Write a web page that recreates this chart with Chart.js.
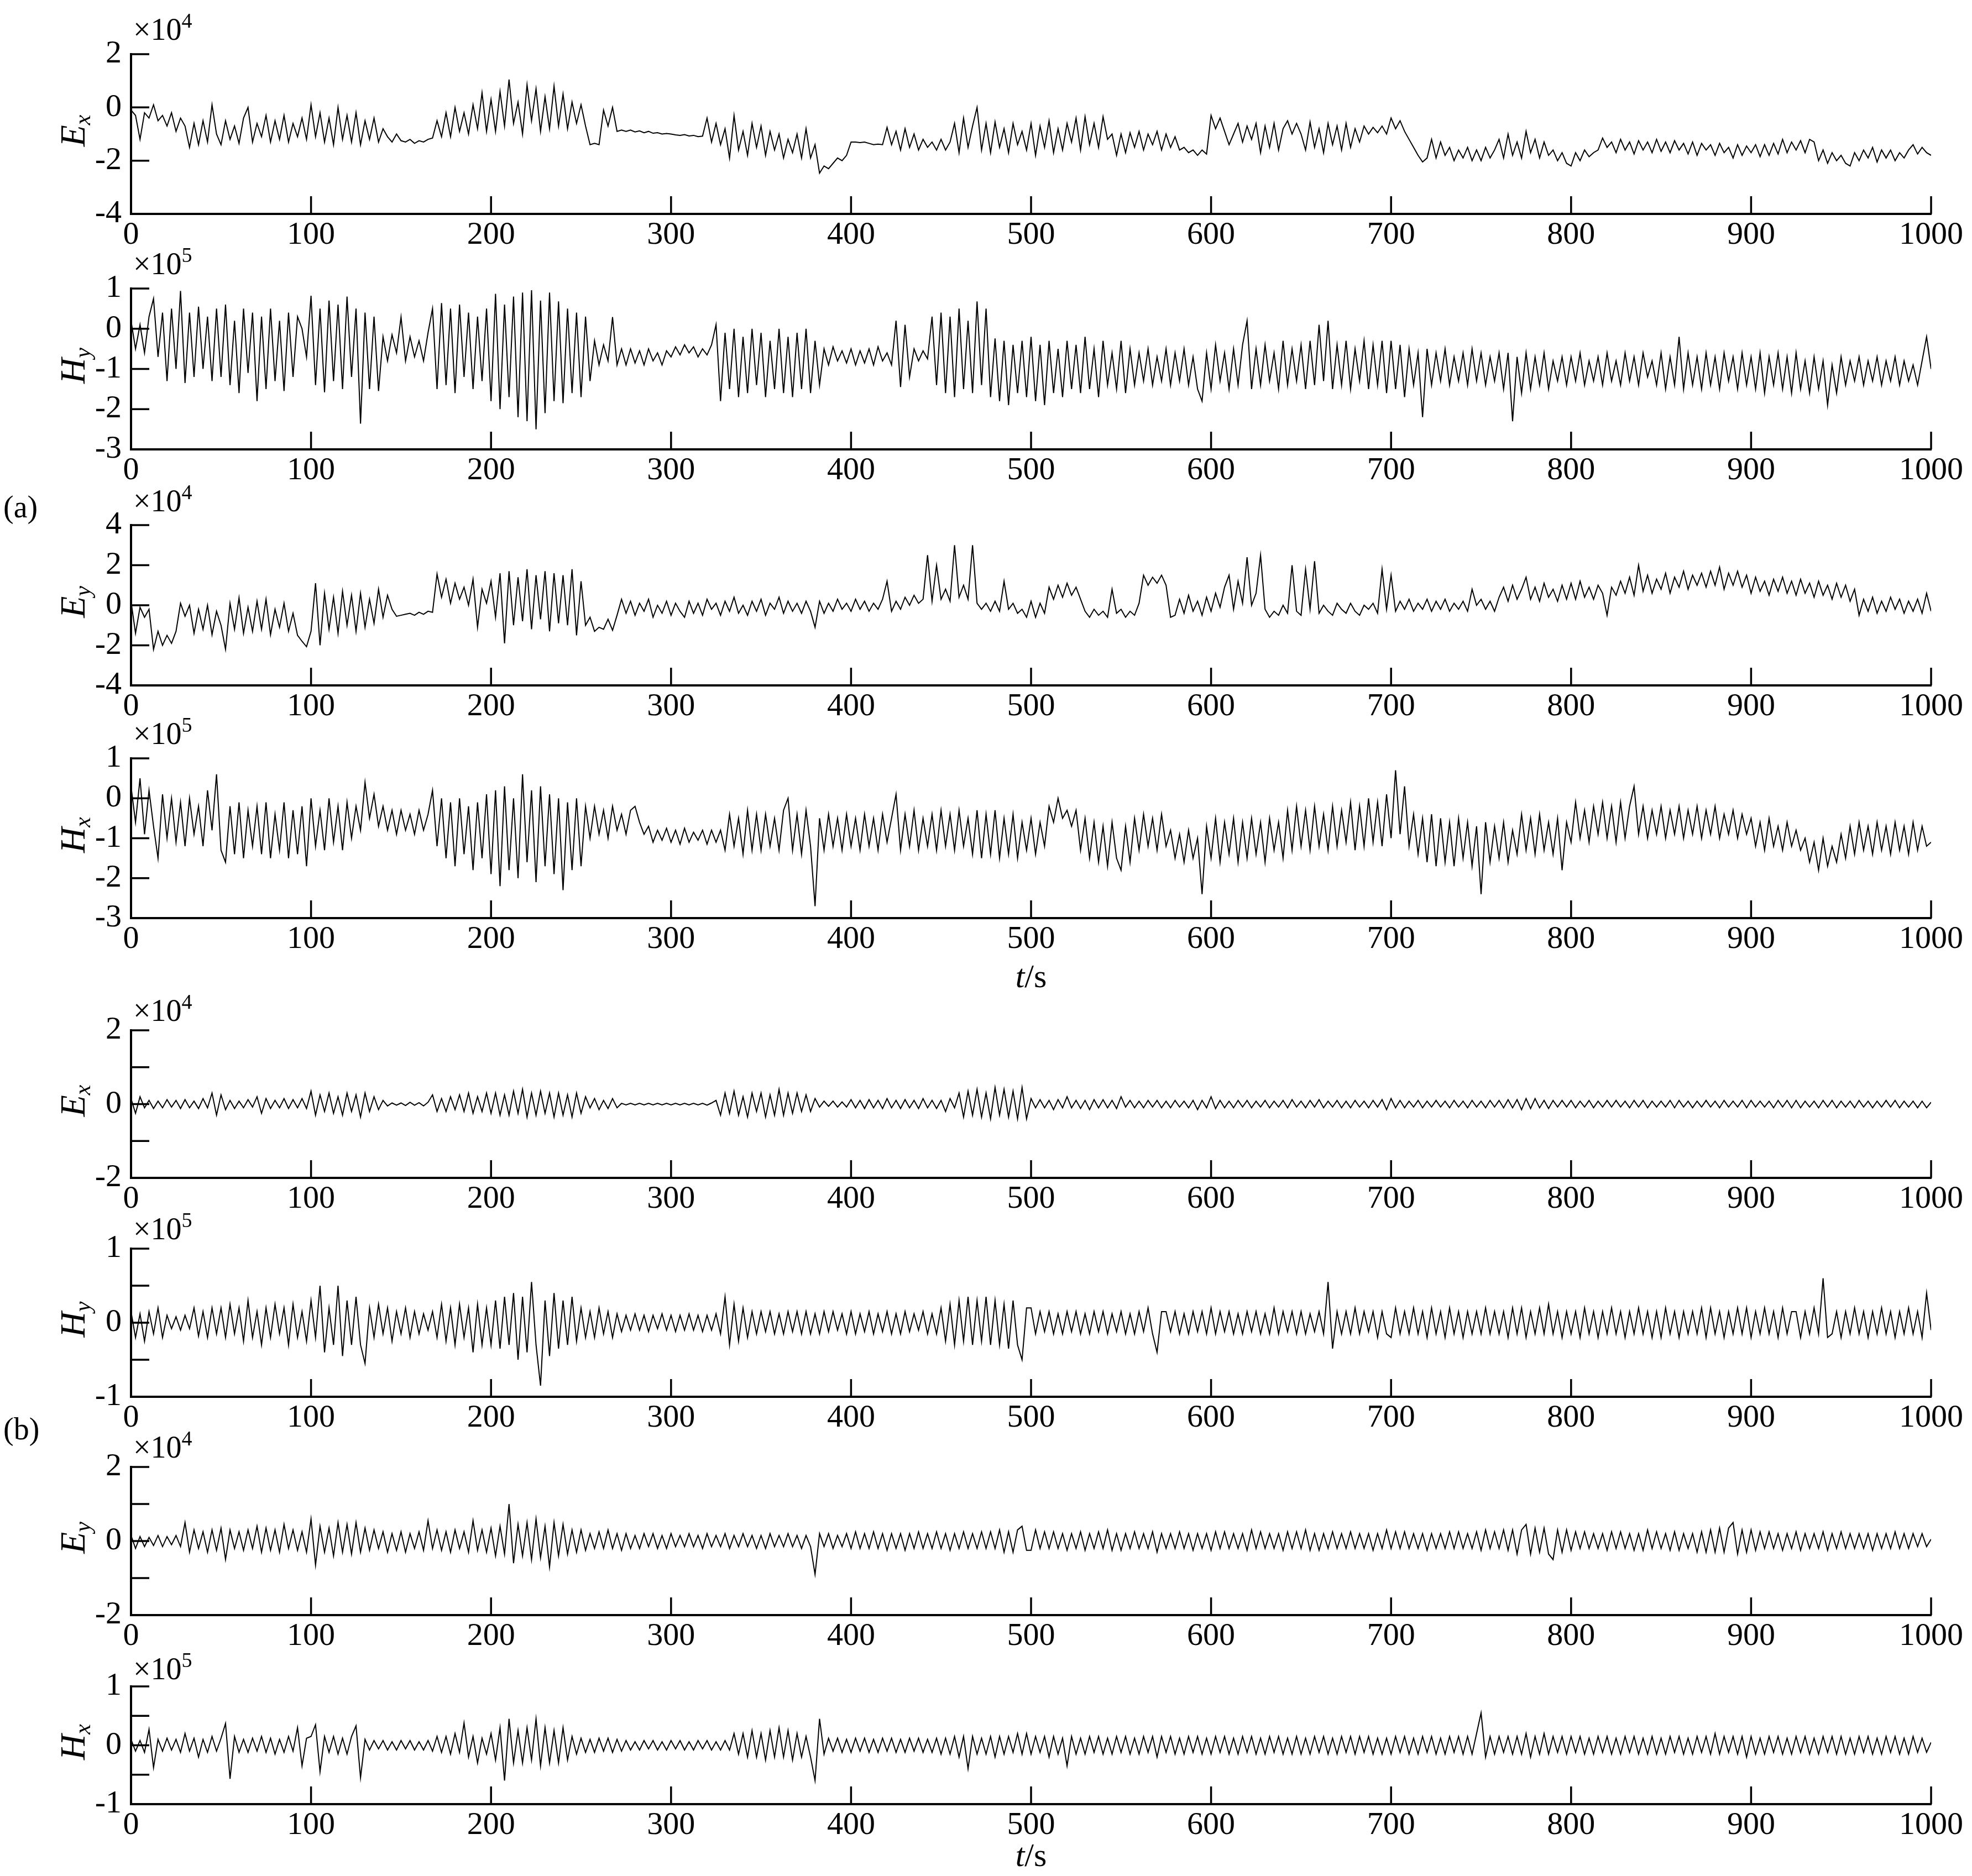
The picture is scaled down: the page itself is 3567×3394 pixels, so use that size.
<!DOCTYPE html>
<html>
<head>
<meta charset="utf-8">
<script src="https://cdn.jsdelivr.net/npm/chart.js@4.4.0/dist/chart.umd.min.js"></script>
<style>
  body { margin: 0; background: #fff; width: 3567px; height: 3394px; position: relative; overflow: hidden; font-family: "Liberation Serif", serif; }
  .panel { position: absolute; left: 0; }
  .tag { position: absolute; left: 6px; font-size: 56px; line-height: 56px; color: #000; }
</style>
</head>
<body>
<div class="tag" style="top:889px">(a)</div>
<div class="tag" style="top:2557px">(b)</div>

<script>
// sample spacing of the series below (seconds); each row = 25 s
const tStep = 2.5;

// (a) raw signals
const exRaw = [
  -0.1, -0.3, -1.2, -0.2, -0.4, 0.1, -0.5, -0.3, -0.7, -0.2,
  -0.9, -0.4, -0.7, -1.5, -0.6, -1.4, -0.5, -1.3, 0.1, -1.0,
  -1.4, -0.5, -1.2, -0.7, -1.35, -0.4, 0.0, -1.3, -0.6, -1.1,
  -0.3, -1.3, -0.5, -1.2, -0.3, -1.3, -0.6, -1.1, -0.4, -1.2,
  0.1, -1.1, -0.2, -1.3, -0.4, -1.4, 0.0, -1.2, -0.3, -1.3,
  -0.2, -1.4, -0.5, -1.2, -0.4, -1.3, -0.8, -1.1, -1.3, -1.0,
  -1.25, -1.3, -1.2, -1.35, -1.25, -1.3, -1.2, -1.15, -0.5, -1.1,
  -0.2, -1.1, 0.0, -0.9, -0.2, -1.0, 0.1, -0.8, 0.55, -0.9,
  0.3, -0.9, 0.6, -0.7, 1.05, -0.6, 0.2, -1.0, 0.85, -0.5,
  0.7, -0.9, 0.4, -0.8, 0.8, -0.7, 0.5, -0.8, 0.2, -0.6,
  0.1, -0.7, -1.4, -1.35, -1.4, -0.1, -0.7, 0.0, -0.9, -0.85,
  -0.9, -0.85, -0.92, -0.88, -0.95, -0.9, -0.97, -0.95, -1.0, -0.98,
  -1.0, -1.03, -1.05, -1.02, -1.07, -1.05, -1.1, -1.08, -0.4, -1.3,
  -0.6, -1.4, -0.8, -1.9, -0.3, -1.6, -0.9, -1.8, -0.6, -1.5,
  -0.7, -1.8, -0.9, -1.6, -1.0, -1.9, -1.2, -1.7, -1.0, -1.9,
  -0.8, -1.9, -1.4, -2.47, -2.2, -2.3, -2.1, -1.9, -2.0, -1.8,
  -1.3, -1.3, -1.32, -1.3, -1.35, -1.4, -1.38, -1.4, -0.75, -1.4,
  -0.9, -1.6, -0.8, -1.5, -1.0, -1.6, -1.2, -1.5, -1.3, -1.6,
  -1.2, -1.6, -1.3, -0.6, -1.7, -0.4, -1.5, -0.7, 0.0, -1.6,
  -0.6, -1.7, -0.55, -1.5, -0.8, -1.7, -0.6, -1.4, -0.9, -1.6,
  -0.6, -1.8, -0.7, -1.5, -0.5, -1.7, -0.8, -1.6, -0.6, -1.3,
  -0.4, -1.6, -0.35, -1.4, -0.6, -1.5, -0.35, -1.2, -1.0, -1.8,
  -1.0, -1.7, -0.95, -1.5, -0.9, -1.6, -1.0, -1.4, -0.9, -1.6,
  -1.0, -1.5, -1.1, -1.6, -1.5, -1.7, -1.6, -1.8, -1.6, -1.75,
  -0.3, -0.8, -0.4, -0.9, -1.4, -1.0, -0.6, -1.3, -0.7, -1.2,
  -0.6, -1.7, -0.7, -1.5, -0.6, -1.6, -0.8, -0.5, -1.0, -0.6,
  -1.0, -1.6, -0.55, -1.5, -0.8, -1.7, -0.6, -1.4, -0.7, -1.6,
  -0.6, -1.5, -0.8, -1.3, -0.7, -1.0, -0.75, -0.95, -0.7, -1.0,
  -0.4, -0.8, -0.5, -0.9, -1.2, -1.5, -1.8, -2.05, -1.9, -1.2,
  -1.9, -1.3, -1.8, -1.5, -2.0, -1.6, -1.9, -1.5, -2.0, -1.6,
  -2.0, -1.5, -1.9, -1.6, -1.2, -1.9, -1.0, -1.8, -1.3, -1.9,
  -0.9, -1.7, -1.2, -1.9, -1.3, -1.8, -1.6, -2.0, -1.7, -2.1,
  -2.2, -1.7, -2.0, -1.6, -1.85, -1.7, -1.6, -1.15, -1.5, -1.3,
  -1.7, -1.2, -1.6, -1.3, -1.75, -1.25, -1.6, -1.3, -1.7, -1.2,
  -1.65, -1.3, -1.7, -1.25, -1.6, -1.35, -1.75, -1.3, -1.8, -1.35,
  -1.6, -1.4, -1.8, -1.35, -1.7, -1.5, -1.9, -1.4, -1.8, -1.45,
  -1.7, -1.4, -1.85, -1.4, -1.8, -1.35, -1.75, -1.2, -1.7, -1.3,
  -1.6, -1.25, -1.7, -1.2, -1.3, -2.0, -1.6, -2.1, -1.7, -2.0,
  -1.8, -2.1, -2.2, -1.7, -2.0, -1.6, -1.9, -1.5, -2.05, -1.6,
  -1.9, -1.6, -2.0, -1.7, -1.9, -1.6, -1.4, -1.75, -1.5, -1.7,
  -1.8
];
const hyRaw = [
  0.2, -0.5, 0.1, -0.6, 0.3, 0.75, -0.7, 0.4, -1.3, 0.5,
  -1.0, 0.94, -1.35, 0.4, -1.2, 0.55, -1.0, 0.3, -1.3, 0.5,
  -1.2, 0.6, -1.4, 0.2, -1.6, 0.5, -1.1, 0.4, -1.8, 0.3,
  -1.5, 0.5, -1.3, 0.2, -1.55, 0.4, -1.2, 0.3, 0.0, -0.7,
  0.82, -1.4, 0.5, -1.58, 0.7, -1.3, 0.6, -1.5, 0.8, -1.2,
  0.5, -2.36, 0.4, -1.5, 0.3, -1.55, -0.2, -0.8, -0.15, -0.6,
  0.29, -0.8, -0.2, -0.7, -0.3, -0.8, -0.1, 0.5, -1.5, 0.64,
  -1.4, 0.5, -1.6, 0.6, -1.2, 0.4, -1.5, 0.3, -1.3, 0.5,
  -1.8, 0.87, -2.0, 0.6, -1.7, 0.8, -2.2, 0.9, -2.3, 0.96,
  -2.5, 0.7, -2.1, 0.9, -1.8, 0.68, -1.85, 0.5, -1.6, 0.4,
  -1.7, 0.3, -1.3, -0.3, -0.9, -0.4, -0.8, 0.29, -0.9, -0.5,
  -0.9, -0.5, -0.85, -0.55, -0.9, -0.5, -0.8, -0.6, -0.9, -0.55,
  -0.7, -0.45, -0.65, -0.4, -0.6, -0.45, -0.7, -0.5, -0.65, -0.4,
  0.1, -1.8, -0.1, -1.5, 0.0, -1.7, -0.2, -1.6, 0.0, -1.4,
  -0.1, -1.7, -0.3, -1.5, 0.0, -1.6, -0.2, -1.7, -0.1, -1.5,
  0.0, -1.6, -0.3, -1.4, -0.5, -0.9, -0.45, -0.8, -0.55, -0.85,
  -0.5, -0.9, -0.55, -0.85, -0.5, -0.9, -0.45, -0.8, -0.6, -0.9,
  0.2, -1.45, 0.1, -1.2, -0.5, -0.8, -0.55, -0.75, 0.3, -1.4,
  0.4, -1.6, 0.3, -1.7, 0.5, -1.5, 0.2, -1.6, 0.68, -1.4,
  0.5, -1.7, -0.24, -1.8, -0.3, -1.9, -0.4, -1.6, -0.3, -1.7,
  -0.2, -1.8, -0.4, -1.9, -0.3, -1.6, -0.5, -1.7, -0.3, -1.5,
  -0.4, -1.6, -0.2, -1.5, -0.5, -1.7, -0.3, -1.4, -0.6, -1.5,
  -0.3, -1.6, -0.5, -1.4, -0.6, -1.3, -0.5, -1.4, -0.7, -1.3,
  -0.5, -1.4, -0.6, -1.3, -0.5, -1.4, -0.7, -1.5, -1.8, -0.6,
  -1.5, -0.4, -1.3, -0.6, -1.5, -0.5, -1.4, -0.4, 0.2, -1.5,
  -0.5, -1.4, -0.4, -1.3, -0.6, -1.5, -0.3, -1.4, -0.5, -1.3,
  -0.4, -1.5, -0.3, -1.4, 0.1, -1.3, 0.2, -1.5, -0.4, -1.4,
  -0.3, -1.5, -0.5, -1.3, -0.3, -1.5, -0.4, -1.4, -0.3, -1.6,
  -0.3, -1.5, -0.4, -1.7, -0.5, -1.4, -0.6, -2.2, -0.5, -1.4,
  -0.6, -1.3, -0.5, -1.4, -0.7, -1.3, -0.6, -1.4, -0.5, -1.3,
  -0.6, -1.4, -0.7, -1.3, -0.6, -1.5, -0.6, -2.3, -0.7, -1.6,
  -0.6, -1.5, -0.7, -1.4, -0.6, -1.5, -0.8, -1.3, -0.7, -1.4,
  -0.7, -1.3, -0.6, -1.4, -0.8, -1.3, -0.7, -1.4, -0.6, -1.3,
  -0.8, -1.4, -0.6, -1.3, -0.7, -1.4, -0.6, -1.2, -0.8, -1.4,
  -0.6, -1.5, -0.7, -1.4, -0.2, -1.5, -0.6, -1.4, -0.7, -1.5,
  -0.6, -1.4, -0.7, -1.5, -0.6, -1.3, -0.7, -1.5, -0.6, -1.4,
  -0.7, -1.5, -0.6, -1.6, -0.7, -1.4, -0.6, -1.5, -0.7, -1.6,
  -0.6, -1.5, -0.8, -1.6, -0.7, -1.5, -0.8, -1.9, -0.9, -1.6,
  -0.7, -1.4, -0.8, -1.3, -0.7, -1.4, -0.8, -1.3, -0.7, -1.4,
  -0.8, -1.3, -0.7, -1.4, -0.8, -1.3, -0.9, -1.4, -0.8, -0.2,
  -1.0
];
const eyRaw = [
  0.2, -1.4, -0.1, -0.6, -0.2, -2.2, -1.3, -2.0, -1.5, -1.9,
  -1.3, 0.1, -0.55, 0.0, -1.4, -0.2, -1.2, 0.0, -1.47, -0.3,
  -1.0, -2.2, 0.1, -1.2, 0.37, -1.4, -0.1, -1.3, 0.2, -1.2,
  0.3, -1.47, -0.2, -1.1, 0.1, -1.3, -0.4, -1.5, -1.8, -2.07,
  -1.3, 1.1, -2.0, 0.6, -1.2, 0.4, -1.4, 0.7, -1.0, 0.5,
  -1.3, 0.6, -1.1, 0.3, -0.9, 0.8, -0.6, 0.5, -0.2, -0.55,
  -0.5, -0.45, -0.4, -0.5, -0.35, -0.45, -0.3, -0.35, 1.56, 0.4,
  1.3, 0.1, 1.1, 0.3, 0.9, 0.0, 1.3, -1.1, 0.8, 0.1,
  1.2, -0.6, 1.6, -1.9, 1.7, -1.0, 1.4, -0.8, 1.8, -1.2,
  1.5, -0.7, 1.7, -1.3, 1.6, -0.9, 1.5, -1.0, 1.8, -1.5,
  1.2, -1.0, -0.6, -1.3, -1.1, -1.2, -0.7, -1.25, -0.5, 0.3,
  -0.4, 0.2, -0.5, 0.1, -0.3, 0.3, -0.6, 0.0, -0.4, 0.2,
  -0.5, 0.1, -0.3, -0.6, 0.2, -0.4, 0.1, -0.5, 0.3, -0.2,
  0.1, -0.5, 0.2, -0.3, 0.4, -0.4, 0.0, -0.5, 0.2, -0.3,
  0.3, -0.5, 0.1, -0.2, 0.4, -0.4, 0.2, -0.3, 0.1, -0.4,
  0.2, -0.3, -1.1, 0.2, -0.4, 0.1, -0.3, 0.3, -0.2, 0.1,
  -0.3, 0.3, -0.2, 0.2, -0.3, 0.1, -0.2, 0.3, 1.2, -0.3,
  0.2, -0.2, 0.4, 0.0, 0.5, 0.1, 0.3, 2.5, 0.2, 2.0,
  0.3, 0.8, 0.2, 3.0, 0.4, 1.0, 0.3, 3.0, 0.1, -0.2,
  0.1, -0.3, 0.2, -0.3, 1.2, -0.2, 0.1, -0.4, -0.2, -0.6,
  0.2, -0.6, 0.1, -0.4, 0.9, 0.3, 1.0, 0.4, 1.1, 0.5,
  0.9, 0.3, -0.3, -0.6, -0.2, -0.5, -0.3, -0.6, 0.8, -0.4,
  -0.2, -0.6, -0.3, -0.5, 0.1, 1.5, 1.0, 1.4, 1.1, 1.5,
  1.0, -0.6, -0.5, 0.3, -0.4, 0.5, -0.3, 0.2, -0.5, 0.4,
  -0.3, 0.6, -0.1, 0.9, 1.5, -0.2, 1.2, 0.1, 2.4, 0.0,
  0.6, 2.5, -0.2, -0.6, -0.3, -0.5, 0.0, -0.4, 2.0, -0.3,
  -0.5, 1.8, -0.2, 2.2, -0.4, 0.0, -0.3, -0.5, 0.1, -0.2,
  -0.4, 0.1, -0.3, -0.5, 0.0, -0.2, 0.1, -0.4, 1.8, -0.2,
  1.5, -0.3, 0.2, -0.2, 0.3, -0.3, 0.1, -0.2, 0.3, -0.3,
  0.2, -0.2, 0.3, -0.3, 0.1, -0.2, 0.2, -0.3, 0.8, 0.0,
  0.3, -0.2, 0.2, -0.3, 0.4, 0.9, 0.2, 1.0, 0.3, 0.8,
  1.4, 0.3, 0.9, 0.2, 1.1, 0.4, 0.8, 0.2, 1.0, 0.3,
  1.1, 0.3, 1.2, 0.4, 0.9, 0.3, 1.0, 0.6, -0.5, 0.9,
  0.5, 1.2, 0.6, 1.4, 0.5, 2.0, 0.7, 1.5, 0.6, 1.3,
  0.8, 1.6, 0.6, 1.4, 0.9, 1.7, 0.8, 1.5, 1.0, 1.6,
  0.9, 1.7, 1.0, 1.9, 0.8, 1.6, 1.0, 1.7, 0.9, 1.5,
  0.6, 1.4, 0.7, 1.2, 0.5, 1.3, 0.7, 1.4, 0.6, 1.2,
  0.5, 1.3, 0.6, 1.1, 0.4, 1.2, 0.5, 1.0, 0.3, 1.1,
  0.4, 1.0, 0.2, 0.8, -0.5, 0.3, -0.3, 0.4, -0.4, 0.2,
  -0.3, 0.4, -0.2, 0.3, -0.4, 0.2, -0.3, 0.3, -0.4, 0.6,
  -0.3
];
const hxRaw = [
  0.3, -0.6, 0.5, -0.9, 0.2, -0.7, -1.5, 0.1, -1.0, 0.0,
  -1.1, -0.1, -1.2, 0.0, -0.9, -0.2, -1.2, 0.2, -0.8, 0.6,
  -1.3, -1.6, -0.2, -1.4, -0.1, -1.5, -0.3, -1.2, -0.2, -1.4,
  -0.1, -1.5, -0.4, -1.3, -0.1, -1.5, -0.3, -1.4, -0.2, -1.7,
  0.0, -1.2, -0.3, -1.3, 0.0, -1.1, -0.2, -1.3, -0.1, -1.0,
  -0.2, -0.8, 0.4, -0.5, 0.1, -0.7, -0.2, -0.8, -0.3, -0.9,
  -0.3, -0.8, -0.4, -0.9, -0.3, -0.8, -0.4, 0.2, -1.2, 0.0,
  -1.5, -0.1, -1.7, 0.0, -1.4, -0.2, -1.8, -0.1, -1.5, 0.1,
  -1.9, 0.2, -2.2, 0.3, -1.8, 0.0, -2.0, 0.6, -1.6, 0.2,
  -2.1, 0.3, -1.7, 0.1, -1.9, 0.0, -2.3, -0.1, -1.8, 0.0,
  -1.7, -0.2, -1.0, -0.2, -0.9, -0.3, -1.0, -0.2, -0.8, -0.4,
  -0.9, -0.3, -0.2, -0.6, -0.9, -0.7, -1.1, -0.8, -1.05, -0.75,
  -1.1, -0.8, -1.15, -0.75, -1.1, -0.85, -1.05, -0.8, -1.15, -0.8,
  -1.1, -0.8, -1.3, -0.4, -1.2, -0.5, -1.4, -0.3, -1.3, -0.4,
  -1.3, -0.4, -1.2, -0.5, -1.3, -0.3, 0.0, -1.3, -0.4, -1.4,
  -0.3, -1.2, -2.7, -0.5, -1.3, -0.4, -1.2, -0.5, -1.3, -0.4,
  -1.2, -0.5, -1.3, -0.4, -1.2, -0.5, -1.3, -0.4, -1.1, -0.5,
  0.1, -1.3, -0.4, -1.2, -0.3, -1.3, -0.5, -1.2, -0.4, -1.3,
  -0.3, -1.2, -0.4, -1.3, -0.3, -1.2, -0.5, -1.4, -0.3, -1.5,
  -0.4, -1.4, -0.3, -1.5, -0.5, -1.4, -0.4, -1.5, -0.6, -1.3,
  -0.5, -1.4, -0.6, -1.2, -0.2, -0.6, 0.0, -0.5, -0.3, -0.7,
  -0.3, -1.3, -0.5, -1.5, -0.6, -1.6, -0.7, -1.7, -0.6, -1.5,
  -1.8, -0.7, -1.6, -0.5, -1.3, -0.4, -1.2, -0.5, -1.3, -0.4,
  -1.2, -0.8, -1.5, -0.9, -1.6, -0.8, -1.5, -1.0, -2.4, -0.7,
  -1.5, -0.5, -1.6, -0.6, -1.4, -0.5, -1.6, -0.6, -1.5, -0.5,
  -1.4, -0.6, -1.6, -0.5, -1.3, -0.6, -1.5, -0.3, -1.3, -0.2,
  -1.2, -0.3, -1.3, -0.2, -1.2, -0.4, -1.3, -0.2, -1.2, -0.3,
  -1.1, -0.1, -1.3, -0.2, -1.2, 0.0, -1.1, -0.1, -1.2, 0.1,
  -1.0, 0.7, -0.9, 0.3, -1.2, -0.4, -1.4, -0.5, -1.6, -0.4,
  -1.7, -0.5, -1.6, -0.6, -1.7, -0.5, -1.5, -0.6, -1.7, -0.7,
  -2.4, -0.6, -1.6, -0.7, -1.5, -0.6, -1.6, -0.8, -1.4, -0.4,
  -1.3, -0.5, -1.4, -0.4, -1.3, -0.6, -1.4, -0.5, -1.8, -0.6,
  -1.1, -0.1, -1.0, -0.3, -1.1, -0.2, -0.9, -0.1, -1.0, -0.2,
  -1.1, -0.1, -1.0, -0.2, 0.3, -0.9, -0.2, -1.0, -0.3, -0.9,
  -0.2, -1.0, -0.3, -0.9, -0.2, -1.0, -0.3, -0.9, -0.2, -1.0,
  -0.3, -0.9, -0.2, -1.0, -0.4, -0.9, -0.3, -1.0, -0.4, -0.9,
  -0.5, -1.2, -0.6, -1.3, -0.5, -1.2, -0.7, -1.3, -0.6, -1.2,
  -0.8, -1.3, -1.0, -1.6, -1.1, -1.8, -1.0, -1.7, -1.2, -1.6,
  -0.9, -1.5, -0.7, -1.4, -0.6, -1.3, -0.7, -1.4, -0.6, -1.3,
  -0.7, -1.4, -0.6, -1.3, -0.7, -1.4, -0.6, -1.3, -0.7, -1.2,
  -1.1
];

// (b) processed signals
const exProc = [
  0.15, -0.25, 0.2, -0.1, 0.1, -0.12, 0.08, -0.1, 0.12, -0.08,
  0.1, -0.12, 0.12, -0.1, 0.08, -0.12, 0.15, -0.1, 0.3, -0.3,
  0.25, -0.15, 0.1, -0.12, 0.08, -0.1, 0.12, -0.08, 0.2, -0.25,
  0.15, -0.12, 0.1, -0.1, 0.15, -0.12, 0.12, -0.1, 0.15, -0.12,
  0.35, -0.3, 0.25, -0.2, 0.3, -0.25, 0.2, -0.3, 0.3, -0.2,
  0.25, -0.35, 0.3, -0.2, 0.2, -0.15, 0.1, -0.05, 0.03, -0.03,
  0.03, -0.04, 0.05, -0.03, 0.04, -0.05, 0.05, 0.25, -0.2, 0.15,
  -0.2, 0.2, -0.15, 0.25, -0.2, 0.3, -0.25, 0.2, -0.2, 0.3,
  -0.25, 0.3, -0.3, 0.25, -0.3, 0.35, -0.25, 0.4, -0.35, 0.3,
  -0.3, 0.35, -0.25, 0.3, -0.35, 0.3, -0.3, 0.25, -0.35, 0.3,
  -0.25, 0.2, -0.1, 0.15, -0.15, 0.1, -0.12, 0.15, -0.1, 0.02,
  -0.02, 0.02, -0.02, 0.02, -0.02, 0.02, -0.02, 0.02, -0.02, 0.02,
  -0.02, 0.02, -0.02, 0.02, -0.02, 0.02, -0.02, 0.02, -0.03, 0.03,
  0.1, -0.3, 0.3, -0.25, 0.35, -0.3, 0.2, -0.35, 0.3, -0.2,
  0.3, -0.35, 0.25, -0.3, 0.4, -0.3, 0.3, -0.25, 0.3, -0.2,
  0.25, -0.2, 0.15, -0.08, 0.08, -0.06, 0.08, -0.08, 0.06, -0.08,
  0.12, -0.1, 0.1, -0.12, 0.12, -0.1, 0.1, -0.12, 0.15, -0.1,
  0.1, -0.12, 0.12, -0.1, 0.1, -0.12, 0.15, -0.1, 0.1, -0.12,
  0.1, -0.2, 0.15, -0.1, 0.3, -0.35, 0.35, -0.3, 0.4, -0.35,
  0.3, -0.4, 0.45, -0.3, 0.4, -0.35, 0.35, -0.4, 0.45, -0.4,
  0.15, -0.1, 0.12, -0.1, 0.1, -0.15, 0.12, -0.1, 0.2, -0.1,
  0.1, -0.12, 0.1, -0.15, 0.12, -0.1, 0.12, -0.1, 0.1, -0.12,
  0.2, -0.08, 0.1, -0.1, 0.08, -0.1, 0.1, -0.08, 0.1, -0.1,
  0.08, -0.1, 0.1, -0.08, 0.08, -0.1, 0.1, -0.15, 0.1, -0.1,
  0.2, -0.12, 0.1, -0.1, 0.08, -0.1, 0.1, -0.08, 0.1, -0.1,
  0.08, -0.08, 0.1, -0.1, 0.08, -0.08, 0.1, -0.1, 0.12, -0.08,
  0.08, -0.1, 0.1, -0.08, 0.12, -0.1, 0.08, -0.08, 0.1, -0.1,
  0.08, -0.1, 0.1, -0.08, 0.08, -0.1, 0.1, -0.08, 0.12, -0.15,
  0.15, -0.1, 0.1, -0.1, 0.08, -0.08, 0.1, -0.1, 0.08, -0.08,
  0.1, -0.08, 0.08, -0.1, 0.1, -0.08, 0.08, -0.1, 0.1, -0.08,
  0.08, -0.1, 0.1, -0.08, 0.1, -0.1, 0.12, -0.1, 0.12, -0.15,
  0.15, -0.12, 0.15, -0.1, 0.1, -0.12, 0.1, -0.08, 0.1, -0.08,
  0.1, -0.1, 0.08, -0.08, 0.1, -0.1, 0.08, -0.08, 0.1, -0.08,
  0.1, -0.08, 0.08, -0.1, 0.1, -0.08, 0.1, -0.1, 0.08, -0.08,
  0.08, -0.08, 0.1, -0.1, 0.1, -0.08, 0.08, -0.1, 0.08, -0.08,
  0.1, -0.08, 0.08, -0.1, 0.1, -0.08, 0.08, -0.08, 0.1, -0.1,
  0.1, -0.08, 0.08, -0.08, 0.08, -0.1, 0.1, -0.08, 0.1, -0.1,
  0.1, -0.1, 0.08, -0.08, 0.08, -0.1, 0.1, -0.08, 0.1, -0.1,
  0.08, -0.08, 0.08, -0.1, 0.1, -0.08, 0.08, -0.1, 0.08, -0.08,
  0.1, -0.08, 0.1, -0.1, 0.08, -0.08, 0.08, -0.1, 0.08, -0.1,
  0.05
];
const hyProc = [
  0.15, -0.2, 0.12, -0.25, 0.15, -0.15, 0.2, -0.2, 0.1, -0.08,
  0.08, -0.1, 0.1, -0.08, 0.2, -0.18, 0.15, -0.2, 0.2, -0.15,
  0.2, -0.2, 0.25, -0.15, 0.2, -0.25, 0.3, -0.2, 0.15, -0.3,
  0.2, -0.2, 0.25, -0.15, 0.2, -0.3, 0.25, -0.2, 0.15, -0.25,
  0.3, -0.2, 0.5, -0.4, 0.2, -0.3, 0.5, -0.45, 0.3, -0.3,
  0.35, -0.3, -0.55, 0.2, -0.2, 0.25, -0.15, 0.2, -0.25, 0.15,
  -0.15, 0.2, -0.2, 0.15, -0.15, 0.12, -0.1, 0.15, -0.2, 0.25,
  -0.25, 0.2, -0.3, 0.25, -0.2, 0.2, -0.4, 0.25, -0.3, 0.2,
  -0.3, 0.3, -0.35, 0.35, -0.3, 0.4, -0.5, 0.35, -0.4, 0.55,
  -0.3, -0.85, 0.3, -0.45, 0.4, -0.35, 0.3, -0.3, 0.35, -0.25,
  0.2, -0.2, 0.15, -0.2, 0.2, -0.15, 0.15, -0.2, 0.12, -0.12,
  0.1, -0.1, 0.12, -0.1, 0.1, -0.12, 0.1, -0.08, 0.12, -0.1,
  0.1, -0.12, 0.1, -0.1, 0.12, -0.1, 0.1, -0.12, 0.1, -0.1,
  0.12, -0.15, 0.35, -0.3, 0.25, -0.25, 0.2, -0.2, 0.15, -0.15,
  0.15, -0.12, 0.15, -0.15, 0.12, -0.15, 0.15, -0.12, 0.15, -0.15,
  0.15, -0.15, 0.12, -0.15, 0.15, -0.12, 0.15, -0.1, 0.12, -0.15,
  0.15, -0.15, 0.12, -0.12, 0.15, -0.15, 0.12, -0.12, 0.15, -0.15,
  0.12, -0.15, 0.15, -0.12, 0.12, -0.1, 0.15, -0.15, 0.12, -0.15,
  0.2, -0.25, 0.25, -0.3, 0.3, -0.25, 0.35, -0.3, 0.3, -0.25,
  0.35, -0.3, 0.3, -0.3, 0.25, -0.35, 0.3, -0.3, -0.5, 0.2,
  0.2, -0.15, 0.15, -0.12, 0.15, -0.15, 0.12, -0.15, 0.15, -0.12,
  0.15, -0.15, 0.12, -0.15, 0.15, -0.12, 0.15, -0.15, 0.12, -0.12,
  0.15, -0.15, 0.12, -0.15, 0.15, -0.12, 0.2, -0.15, -0.4, 0.15,
  0.15, -0.12, 0.15, -0.15, 0.12, -0.15, 0.15, -0.12, 0.15, -0.15,
  0.2, -0.15, 0.15, -0.12, 0.15, -0.15, 0.12, -0.15, 0.15, -0.12,
  0.15, -0.15, 0.12, -0.15, 0.2, -0.15, 0.15, -0.12, 0.15, -0.15,
  0.15, -0.15, 0.12, -0.12, 0.15, -0.15, 0.55, -0.35, 0.15, -0.15,
  0.15, -0.15, 0.2, -0.15, 0.15, -0.12, 0.15, -0.2, 0.15, -0.15,
  -0.2, 0.2, -0.15, 0.15, -0.15, 0.2, -0.15, 0.15, -0.2, 0.2,
  -0.15, 0.15, -0.2, 0.2, -0.15, 0.15, -0.2, 0.15, -0.15, 0.15,
  -0.15, 0.2, -0.15, 0.15, -0.15, 0.15, -0.2, 0.2, -0.15, 0.2,
  -0.2, 0.15, -0.15, 0.2, -0.15, 0.25, -0.15, 0.15, -0.2, 0.15,
  -0.15, 0.15, -0.2, 0.2, -0.15, 0.15, -0.2, 0.15, -0.15, 0.2,
  -0.15, 0.15, -0.2, 0.15, -0.15, 0.2, -0.15, 0.15, -0.2, 0.15,
  -0.2, 0.2, -0.15, 0.15, -0.2, 0.15, -0.15, 0.15, -0.15, 0.2,
  -0.2, 0.2, -0.15, 0.15, -0.2, 0.15, -0.15, 0.2, -0.15, 0.2,
  -0.2, 0.15, -0.15, 0.2, -0.15, 0.15, -0.2, 0.2, -0.15, 0.15,
  0.15, -0.2, 0.15, -0.15, 0.2, -0.15, 0.6, -0.2, -0.15, 0.15,
  -0.2, 0.15, -0.15, 0.2, -0.15, 0.15, -0.2, 0.15, -0.15, 0.2,
  -0.15, 0.15, -0.2, 0.15, -0.15, 0.2, -0.15, 0.15, -0.2, 0.4,
  -0.1
];
const eyProc = [
  0.15, -0.2, 0.12, -0.15, 0.1, -0.12, 0.15, -0.15, 0.12, -0.1,
  0.15, -0.15, 0.5, -0.3, 0.3, -0.2, 0.25, -0.3, 0.3, -0.25,
  0.35, -0.5, 0.3, -0.2, 0.25, -0.25, 0.3, -0.2, 0.4, -0.3,
  0.35, -0.25, 0.3, -0.3, 0.45, -0.2, 0.3, -0.25, 0.25, -0.3,
  0.6, -0.65, 0.4, -0.3, 0.35, -0.4, 0.5, -0.3, 0.45, -0.35,
  0.5, -0.3, 0.35, -0.25, 0.3, -0.2, 0.25, -0.3, 0.2, -0.25,
  0.25, -0.3, 0.2, -0.2, 0.25, -0.25, 0.55, -0.2, 0.3, -0.25,
  0.25, -0.3, 0.3, -0.2, 0.25, -0.3, 0.55, -0.25, 0.3, -0.3,
  0.35, -0.4, 0.4, -0.35, 1.0, -0.6, 0.45, -0.4, 0.5, -0.5,
  0.6, -0.45, 0.4, -0.7, 0.5, -0.4, 0.45, -0.35, 0.3, -0.3,
  0.3, -0.25, 0.2, -0.2, 0.25, -0.2, 0.3, -0.2, 0.2, -0.25,
  0.2, -0.2, 0.15, -0.2, 0.2, -0.15, 0.2, -0.2, 0.15, -0.2,
  0.2, -0.15, 0.15, -0.15, 0.2, -0.15, 0.15, -0.2, 0.2, -0.15,
  0.15, -0.15, 0.2, -0.2, 0.15, -0.15, 0.2, -0.15, 0.15, -0.2,
  0.15, -0.2, 0.2, -0.15, 0.15, -0.15, 0.2, -0.15, 0.15, -0.2,
  0.15, -0.15, -0.9, 0.2, -0.15, 0.2, -0.2, 0.15, -0.15, 0.2,
  -0.2, 0.25, -0.2, 0.2, -0.2, 0.25, -0.2, 0.2, -0.25, 0.2,
  -0.2, 0.2, -0.25, 0.2, -0.2, 0.25, -0.2, 0.2, -0.2, 0.25,
  -0.2, 0.2, -0.25, 0.2, -0.2, 0.25, -0.2, 0.2, -0.2, 0.25,
  -0.2, 0.25, -0.2, 0.3, -0.3, 0.25, -0.3, 0.3, 0.4, -0.25,
  -0.25, 0.3, -0.2, 0.25, -0.2, 0.25, -0.2, 0.2, -0.25, 0.2,
  -0.2, 0.25, -0.25, 0.2, -0.2, 0.25, -0.2, 0.3, -0.25, 0.2,
  -0.25, 0.2, -0.2, 0.25, -0.2, 0.2, -0.2, 0.25, -0.3, 0.2,
  -0.2, 0.2, -0.2, 0.25, -0.2, 0.2, -0.25, 0.2, -0.2, 0.2,
  -0.25, 0.25, -0.2, 0.25, -0.2, 0.2, -0.2, 0.2, -0.25, 0.3,
  -0.2, 0.25, -0.2, 0.2, -0.2, 0.2, -0.25, 0.25, -0.2, 0.25,
  -0.2, 0.3, -0.25, 0.2, -0.25, 0.2, -0.2, 0.25, -0.2, 0.2,
  -0.2, 0.25, -0.2, 0.2, -0.2, 0.2, -0.25, 0.2, -0.2, 0.3,
  -0.2, 0.25, -0.2, 0.25, -0.2, 0.2, -0.2, 0.2, -0.25, 0.2,
  -0.2, 0.2, -0.2, 0.25, -0.2, 0.25, -0.2, 0.2, -0.2, 0.25,
  -0.25, 0.3, -0.2, 0.25, -0.2, 0.3, -0.25, 0.3, -0.35, 0.3,
  0.45, -0.35, 0.35, -0.3, 0.35, -0.35, -0.5, 0.3, -0.3, 0.3,
  -0.25, 0.25, -0.2, 0.25, -0.2, 0.2, -0.2, 0.2, -0.25, 0.25,
  -0.2, 0.25, -0.2, 0.2, -0.25, 0.2, -0.25, 0.3, -0.2, 0.25,
  -0.2, 0.2, -0.25, 0.25, -0.25, 0.2, -0.2, 0.2, -0.3, 0.25,
  -0.3, 0.3, -0.3, 0.35, -0.3, 0.35, 0.5, -0.35, 0.3, -0.3,
  0.3, -0.25, 0.25, -0.2, 0.25, -0.2, 0.2, -0.25, 0.2, -0.2,
  0.25, -0.25, 0.2, -0.2, 0.2, -0.2, 0.25, -0.25, 0.2, -0.2,
  0.25, -0.2, 0.2, -0.2, 0.2, -0.2, 0.2, -0.25, 0.2, -0.2,
  0.2, -0.2, 0.25, -0.2, 0.2, -0.2, 0.2, -0.15, 0.2, -0.15,
  0.05
];
const hxProc = [
  0.1, -0.1, 0.08, -0.12, 0.27, -0.38, 0.1, -0.1, 0.12, -0.08,
  0.1, -0.12, 0.2, -0.1, 0.12, -0.2, 0.1, -0.12, 0.15, -0.1,
  0.12, 0.37, -0.57, 0.15, -0.12, 0.1, -0.12, 0.12, -0.1, 0.15,
  -0.12, 0.12, -0.15, 0.1, -0.12, 0.15, -0.1, 0.3, -0.35, 0.12,
  0.15, 0.35, -0.45, 0.15, -0.12, 0.15, -0.15, 0.12, -0.15, 0.15,
  0.33, -0.55, 0.1, -0.08, 0.08, -0.06, 0.08, -0.08, 0.06, -0.08,
  0.08, -0.06, 0.08, -0.08, 0.06, -0.08, 0.08, -0.1, 0.15, -0.12,
  0.15, -0.15, 0.2, -0.12, 0.38, -0.2, 0.15, -0.3, 0.12, -0.15,
  0.2, -0.25, 0.3, -0.6, 0.45, -0.3, 0.25, -0.3, 0.3, -0.25,
  0.45, -0.35, 0.3, -0.3, 0.25, -0.3, 0.3, -0.25, 0.15, -0.15,
  0.12, -0.12, 0.1, -0.12, 0.12, -0.1, 0.12, -0.12, 0.1, -0.1,
  0.08, -0.08, 0.06, -0.08, 0.08, -0.06, 0.08, -0.08, 0.06, -0.08,
  0.08, -0.06, 0.08, -0.08, 0.06, -0.08, 0.08, -0.06, 0.08, -0.08,
  0.06, -0.08, 0.08, -0.08, 0.2, -0.15, 0.2, -0.2, 0.25, -0.2,
  0.2, -0.25, 0.25, -0.2, 0.3, -0.2, 0.25, -0.25, 0.2, -0.2,
  0.15, -0.2, -0.6, 0.45, -0.15, 0.12, -0.1, 0.12, -0.12, 0.1,
  -0.12, 0.12, -0.1, 0.12, -0.12, 0.1, -0.12, 0.12, -0.1, 0.12,
  -0.12, 0.1, -0.12, 0.12, -0.1, 0.12, -0.12, 0.1, -0.12, 0.12,
  -0.15, 0.12, -0.15, 0.15, -0.2, 0.15, -0.4, 0.15, -0.15, 0.12,
  -0.15, 0.15, -0.2, 0.15, -0.15, 0.15, -0.12, 0.2, -0.15, 0.2,
  -0.15, 0.15, -0.12, 0.15, -0.2, 0.15, -0.15, 0.12, -0.35, 0.15,
  -0.15, 0.12, -0.15, 0.15, -0.12, 0.15, -0.15, 0.12, -0.15, 0.15,
  -0.12, 0.15, -0.15, 0.12, -0.15, 0.15, -0.12, 0.15, -0.2, 0.15,
  -0.12, 0.15, -0.15, 0.12, -0.15, 0.15, -0.12, 0.15, -0.15, 0.12,
  -0.15, 0.15, -0.12, 0.15, -0.15, 0.12, -0.15, 0.15, -0.12, 0.15,
  -0.15, 0.12, -0.15, 0.15, -0.12, 0.15, -0.15, 0.12, -0.15, 0.15,
  -0.15, 0.12, -0.15, 0.15, -0.12, 0.15, -0.15, 0.12, -0.15, 0.15,
  -0.12, 0.15, -0.15, 0.15, -0.12, 0.15, -0.15, 0.12, -0.15, 0.12,
  -0.15, 0.15, -0.12, 0.15, -0.15, 0.12, -0.15, 0.15, -0.12, 0.15,
  -0.15, 0.12, -0.15, 0.15, -0.12, 0.15, -0.15, 0.15, -0.15, 0.2,
  0.55, -0.2, 0.15, -0.15, 0.15, -0.12, 0.15, -0.15, 0.15, -0.15,
  0.2, -0.2, 0.15, -0.15, 0.2, -0.15, 0.15, -0.12, 0.15, -0.15,
  0.15, -0.12, 0.15, -0.15, 0.12, -0.15, 0.15, -0.12, 0.15, -0.15,
  0.12, -0.15, 0.15, -0.12, 0.15, -0.15, 0.12, -0.15, 0.15, -0.15,
  0.12, -0.15, 0.15, -0.12, 0.15, -0.15, 0.12, -0.15, 0.15, -0.12,
  0.15, -0.15, 0.2, -0.15, 0.15, -0.12, 0.15, -0.15, 0.15, -0.2,
  0.15, -0.15, 0.12, -0.15, 0.15, -0.12, 0.15, -0.15, 0.12, -0.15,
  0.15, -0.12, 0.15, -0.15, 0.12, -0.15, 0.15, -0.12, 0.15, -0.15,
  0.15, -0.15, 0.12, -0.15, 0.15, -0.12, 0.15, -0.15, 0.12, -0.15,
  0.15, -0.12, 0.15, -0.15, 0.12, -0.15, 0.15, -0.12, 0.12, -0.12,
  0.05
];

// panel layout (pixels on the page) and axis settings
const panels = [
  { data: exRaw,  top: 98,   bottom: 387,  min: -4, max: 2, step: 2,   every: 2, name: 'E', sub: 'x', exp: '4', expGap: 26 },
  { data: hyRaw,  top: 522,  bottom: 813,  min: -3, max: 1, step: 1,   every: 1, name: 'H', sub: 'y', exp: '5', expGap: 26 },
  { data: eyRaw,  top: 950,  bottom: 1240, min: -4, max: 4, step: 2,   every: 2, name: 'E', sub: 'y', exp: '4', expGap: 25 },
  { data: hxRaw,  top: 1372, bottom: 1661, min: -3, max: 1, step: 1,   every: 1, name: 'H', sub: 'x', exp: '5', expGap: 26, unitY: 1786 },
  { data: exProc, top: 1864, bottom: 2131, min: -2, max: 2, step: 1,   every: 2, name: 'E', sub: 'x', exp: '4', expGap: 17 },
  { data: hyProc, top: 2259, bottom: 2527, min: -1, max: 1, step: 0.5, every: 1, name: 'H', sub: 'y', exp: '5', expGap: 17 },
  { data: eyProc, top: 2654, bottom: 2922, min: -2, max: 2, step: 1,   every: 2, name: 'E', sub: 'y', exp: '4', expGap: 17 },
  { data: hxProc, top: 3051, bottom: 3264, min: -1, max: 1, step: 0.5, every: 1, name: 'H', sub: 'x', exp: '5', expGap: 13, unitY: 3376 }
];

const PAD_TOP = 110, PAD_BOT = 140, PAD_RIGHT = 74, Y_W = 237;
const SERIF = '"Liberation Serif", "Times New Roman", serif';

// inward ticks, exponent label, axis title and t/s
const decor = {
  id: 'decor',
  afterDraw(chart, args, opts) {
    const p = opts.panel;
    const { ctx, chartArea: a, scales } = chart;
    ctx.save();
    ctx.strokeStyle = '#000';
    ctx.lineWidth = 3.5;
    scales.y.ticks.forEach(t => {
      const y = scales.y.getPixelForValue(t.value);
      ctx.beginPath(); ctx.moveTo(a.left, y); ctx.lineTo(a.left + 33, y); ctx.stroke();
    });
    scales.x.ticks.forEach(t => {
      const x = scales.x.getPixelForValue(t.value);
      ctx.beginPath(); ctx.moveTo(x, a.bottom); ctx.lineTo(x, a.bottom - 32); ctx.stroke();
    });

    ctx.fillStyle = '#000';
    ctx.textAlign = 'left';
    ctx.textBaseline = 'alphabetic';
    const base = a.top - p.expGap;
    ctx.font = '56px ' + SERIF;
    ctx.fillText('×10', a.left + 4, base);
    const w10 = ctx.measureText('×10').width;
    ctx.font = '38px ' + SERIF;
    ctx.fillText(p.exp, a.left + 4 + w10, base - 22);

    ctx.save();
    ctx.translate(153, (a.top + a.bottom) / 2 - 6);
    ctx.rotate(-Math.PI / 2);
    ctx.font = 'italic 64px ' + SERIF;
    const wn = ctx.measureText(p.name).width;
    ctx.font = 'italic 42px ' + SERIF;
    const ws = ctx.measureText(p.sub).width;
    const x0 = -(wn + ws) / 2;
    ctx.font = 'italic 64px ' + SERIF;
    ctx.fillText(p.name, x0, 0);
    ctx.font = 'italic 42px ' + SERIF;
    ctx.fillText(p.sub, x0 + wn, 10);
    ctx.restore();

    if (p.unitY) {
      const by = a.top + (p.unitY - p.top);
      ctx.font = 'italic 60px ' + SERIF;
      const wt = ctx.measureText('t').width;
      ctx.font = '60px ' + SERIF;
      const wr = ctx.measureText('/s').width;
      const sx = (a.left + a.right) / 2 - (wt + wr) / 2;
      ctx.font = 'italic 60px ' + SERIF;
      ctx.fillText('t', sx, by);
      ctx.font = '60px ' + SERIF;
      ctx.fillText('/s', sx + wt, by);
    }
    ctx.restore();
  }
};

panels.forEach(p => {
  const h = (p.bottom - p.top) + PAD_TOP + PAD_BOT;
  const div = document.createElement('div');
  div.className = 'panel';
  div.style.top = (p.top - PAD_TOP) + 'px';
  div.style.width = '3567px';
  div.style.height = h + 'px';
  const cv = document.createElement('canvas');
  cv.width = 3567;
  cv.height = h;
  div.appendChild(cv);
  document.body.appendChild(div);

  new Chart(cv, {
    type: 'line',
    data: {
      datasets: [{
        data: p.data.map((v, k) => ({ x: k * tStep, y: v })),
        borderColor: '#000',
        borderWidth: 2,
        pointRadius: 0,
        tension: 0,
        fill: false
      }]
    },
    options: {
      responsive: false,
      animation: false,
      devicePixelRatio: 1,
      layout: { padding: { top: PAD_TOP, bottom: PAD_BOT - 80, left: 0, right: PAD_RIGHT } },
      plugins: { legend: { display: false }, tooltip: { enabled: false }, decor: { panel: p } },
      scales: {
        x: {
          type: 'linear', min: 0, max: 1000,
          grid: { display: false, drawTicks: false },
          border: { display: true, color: '#000', width: 4 },
          ticks: {
            stepSize: 100, autoSkip: false, maxRotation: 0, padding: 10,
            color: '#000', font: { family: SERIF, size: 58, lineHeight: 1 },
            callback: v => String(v)
          },
          afterFit: s => { s.height = 80; }
        },
        y: {
          min: p.min, max: p.max,
          grid: { display: false, drawTicks: false },
          border: { display: true, color: '#000', width: 4 },
          ticks: {
            stepSize: p.step, autoSkip: false, padding: 17,
            color: '#000', font: { family: SERIF, size: 58, lineHeight: 1 },
            callback: v => Math.abs(v / p.every - Math.round(v / p.every)) < 1e-6 ? String(v) : ''
          },
          afterFit: s => { s.width = Y_W; }
        }
      }
    },
    plugins: [decor]
  });
});
</script>
</body>
</html>
